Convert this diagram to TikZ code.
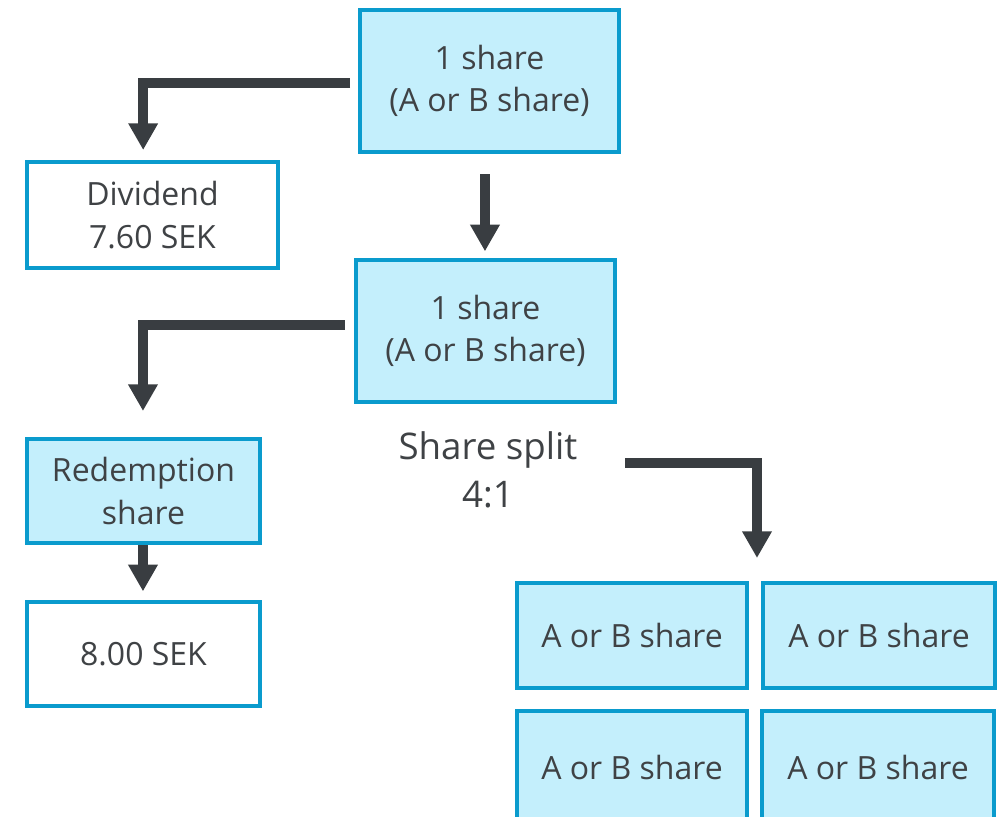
\documentclass[tikz,border=0pt]{standalone}
\usepackage{fontspec}
\setmainfont{Open Sans}
\usetikzlibrary{arrows.meta}

\definecolor{boxline}{HTML}{0A9BCD}
\definecolor{boxfill}{HTML}{C4EFFC}
\definecolor{textgray}{HTML}{3F4245}
\definecolor{arrowgray}{HTML}{393D41}

\tikzset{
  sharebox/.style={draw=boxline, line width=3pt, fill=boxfill, align=center,
    text=textgray, inner sep=0pt, font=\fontsize{24}{32}\selectfont},
  cashbox/.style={sharebox, fill=white},
  flow/.style={draw=arrowgray, line width=7.5pt,
    -{Triangle[width=21pt,length=20pt]}},
}

\begin{document}
\begin{tikzpicture}[x=0.75pt,y=-0.75pt]
    \useasboundingbox (0,0) rectangle (1003,817);

    % the share before and after the dividend
    \node[sharebox, minimum width=194pt, minimum height=106.5pt] (top) at (489.5,81)
      {1 share\\(A or B share)};
    \node[cashbox, minimum width=188pt, minimum height=79.5pt] (div) at (152.5,215)
      {Dividend\\7.60 SEK};
    \node[sharebox, minimum width=194pt, minimum height=106.5pt] (mid) at (485.5,331)
      {1 share\\(A or B share)};

    % redemption
    \node[sharebox, minimum width=175pt, minimum height=78pt] (red) at (143.5,491)
      {Redemption\\share};
    \node[cashbox, minimum width=175pt, minimum height=78pt] (cash) at (143.5,654)
      {8.00 SEK};

    % split
    \node[text=textgray, align=center, font=\fontsize{27.5}{36}\selectfont] (split)
      at (488,470) {Share split\\4:1};
    \node[sharebox, minimum width=172.5pt, minimum height=78.75pt] (a1) at (632,635.5)
      {A or B share};
    \node[sharebox, minimum width=174pt, minimum height=78.75pt] (a2) at (879,635.5)
      {A or B share};
    \node[sharebox, minimum width=172.5pt, minimum height=84pt] (a3) at (632,767)
      {A or B share};
    \node[sharebox, minimum width=174pt, minimum height=84pt] (a4) at (878,767)
      {A or B share};

    \coordinate (splitout) at (625,463);
    \coordinate (fourin) at (757,558);

    \draw[flow] ([xshift=-6pt,yshift=-1.5pt]top.west) -| ([xshift=-7pt,yshift=7.5pt]div.north);
    \draw[flow] ([xshift=-3.4pt,yshift=-15pt]top.south) -- ([xshift=-0.4pt,yshift=5pt]mid.north);
    \draw[flow] ([xshift=-7pt,yshift=4.5pt]mid.west) -| ([xshift=-0.4pt,yshift=19.5pt]red.north);
    \draw[flow] ([xshift=-0.4pt]red.south) -- ([xshift=-0.4pt,yshift=6.5pt]cash.north);
    \draw[flow] (splitout) -| (fourin);
\end{tikzpicture}
\end{document}
